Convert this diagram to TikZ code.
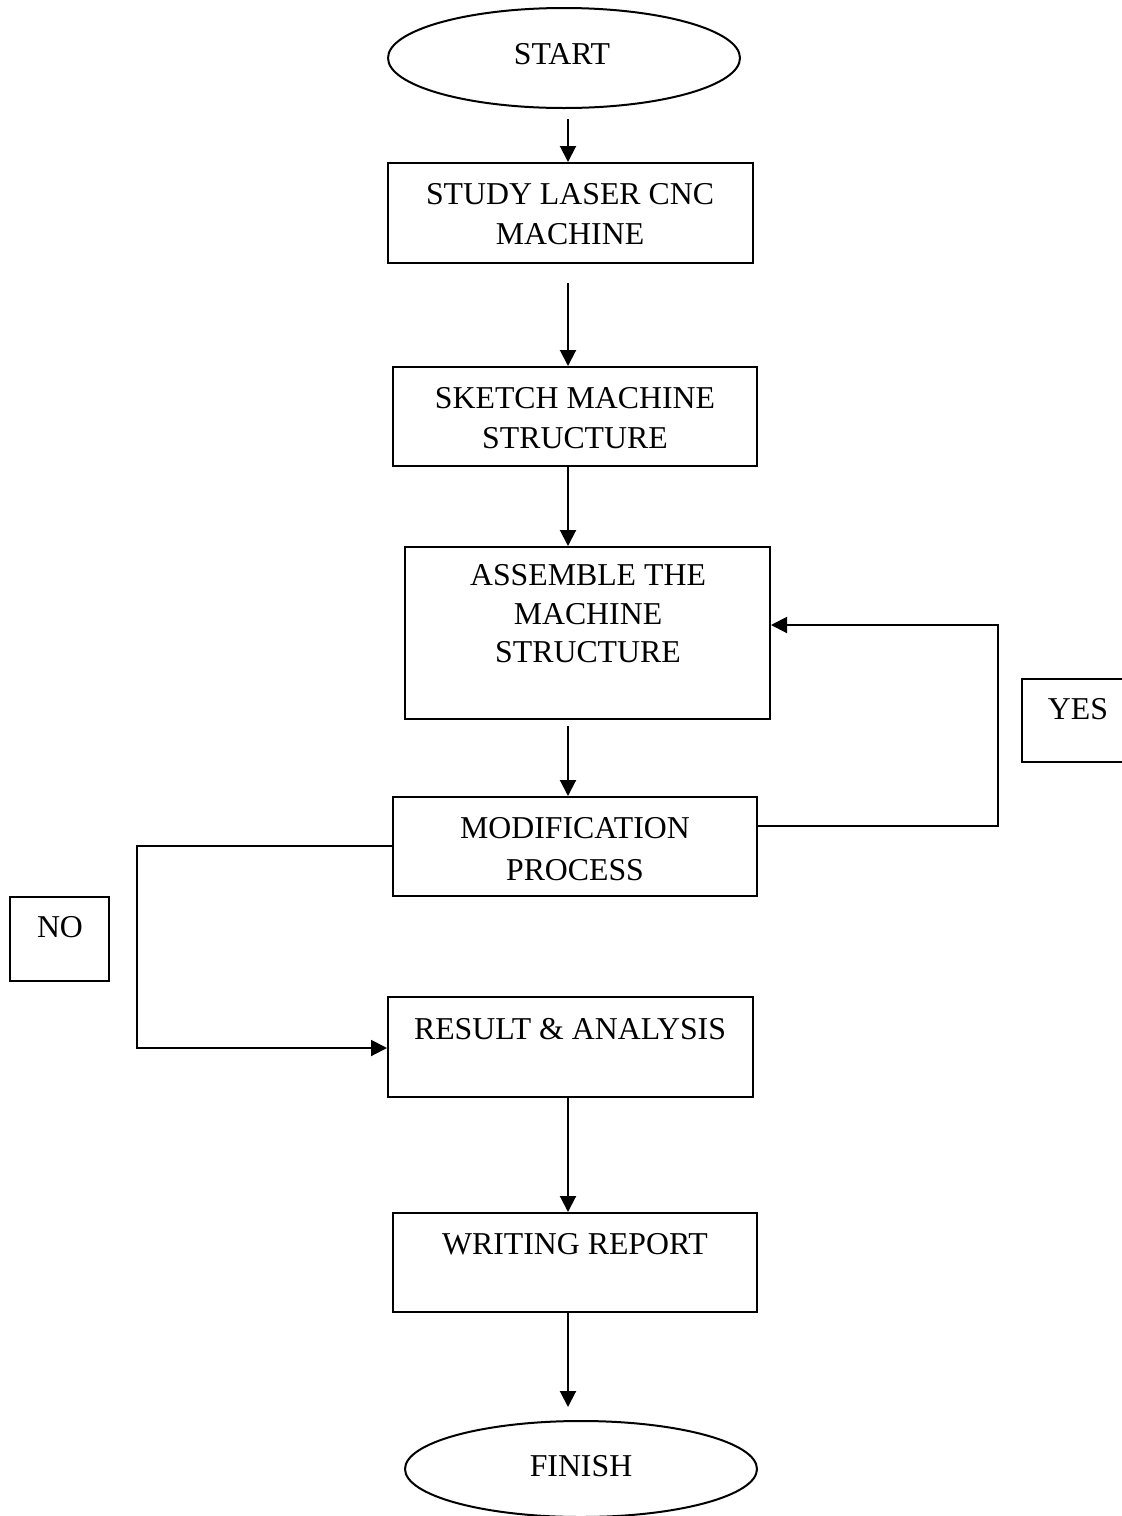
\documentclass[tikz,border=0pt]{standalone}
\usepackage{fontspec}
\setmainfont{Liberation Serif}
\usetikzlibrary{shapes.geometric,fit,arrows.meta}
\begin{document}
\begin{tikzpicture}[x=0.5pt,y=-0.5pt,
  box/.style={draw,line width=1pt,inner sep=0pt},
  oval/.style={draw,ellipse,line width=1pt,inner sep=0pt,minimum width=176pt},
  txt/.style={font=\fontsize{15.9}{20}\selectfont,align=center,inner sep=0pt},
  conn/.style={line width=1pt},
  arr/.style={line width=1pt,-{Triangle[length=8pt,width=8pt]}}]
\useasboundingbox (0,0) rectangle (1122,1516);
% shapes
\node[oval,minimum height=50pt] (start) at (564,58) {};
\node[box,fit={(388,163) (753,263)}] (b1) {};
\node[box,fit={(393,367) (757,466)}] (b2) {};
\node[box,fit={(405,547) (770,719)}] (b3) {};
\node[box,fit={(393,797) (757,896)}] (b4) {};
\node[box,fit={(388,997) (753,1097)}] (b5) {};
\node[box,fit={(393,1213) (757,1312)}] (b6) {};
\node[oval,minimum height=48pt] (finish) at (581,1469) {};
\node[box,fit={(1022,679) (1135,762)}] (yesbox) {};
\node[box,fit={(10,897) (109,981)}] (nobox) {};
% texts
\node[txt] (startt) at (562,54) {START};
\node[txt] (b1t) at (570,214) {STUDY LASER CNC\\MACHINE};
\node[txt] (b2t) at (575,418) {SKETCH MACHINE\\STRUCTURE};
\node[txt,font=\fontsize{15.9}{19.3}\selectfont] (b3t) at (588,614) {ASSEMBLE THE\\MACHINE\\STRUCTURE};
\node[txt,font=\fontsize{15.9}{21}\selectfont] (b4t) at (575,849) {MODIFICATION\\PROCESS};
\node[txt] (b5t) at (570,1029) {RESULT \& ANALYSIS};
\node[txt] (b6t) at (575,1244) {WRITING REPORT};
\node[txt] (finisht) at (581,1466) {FINISH};
\node[txt] (yest) at (1078,709) {YES};
\node[txt] (not) at (60,927) {NO};
% connectors
\coordinate (ax) at (568,0);
\coordinate (ytop) at (998,625);
\coordinate (ybot) at (998,826);
\coordinate (ntop) at (137,846);
\coordinate (nbot) at (137,1048);
\draw[arr,shorten <=5pt] (ax |- start.south) -- (ax |- b1.north);
\draw[arr,shorten <=9.5pt] (ax |- b1.south) -- (ax |- b2.north);
\draw[arr] (ax |- b2.south) -- (ax |- b3.north);
\draw[arr,shorten <=3pt] (ax |- b3.south) -- (ax |- b4.north);
\draw[arr] (ax |- b5.south) -- (ax |- b6.north);
\draw[arr,shorten >=6.5pt] (ax |- b6.south) -- (ax |- finish.north);
\draw[arr] (b4.east |- ybot) -- (ybot) -- (ytop) -- (b3.east |- ytop);
\draw[arr] (b4.west |- ntop) -- (ntop) -- (nbot) -- (b5.west |- nbot);
\end{tikzpicture}
\end{document}
